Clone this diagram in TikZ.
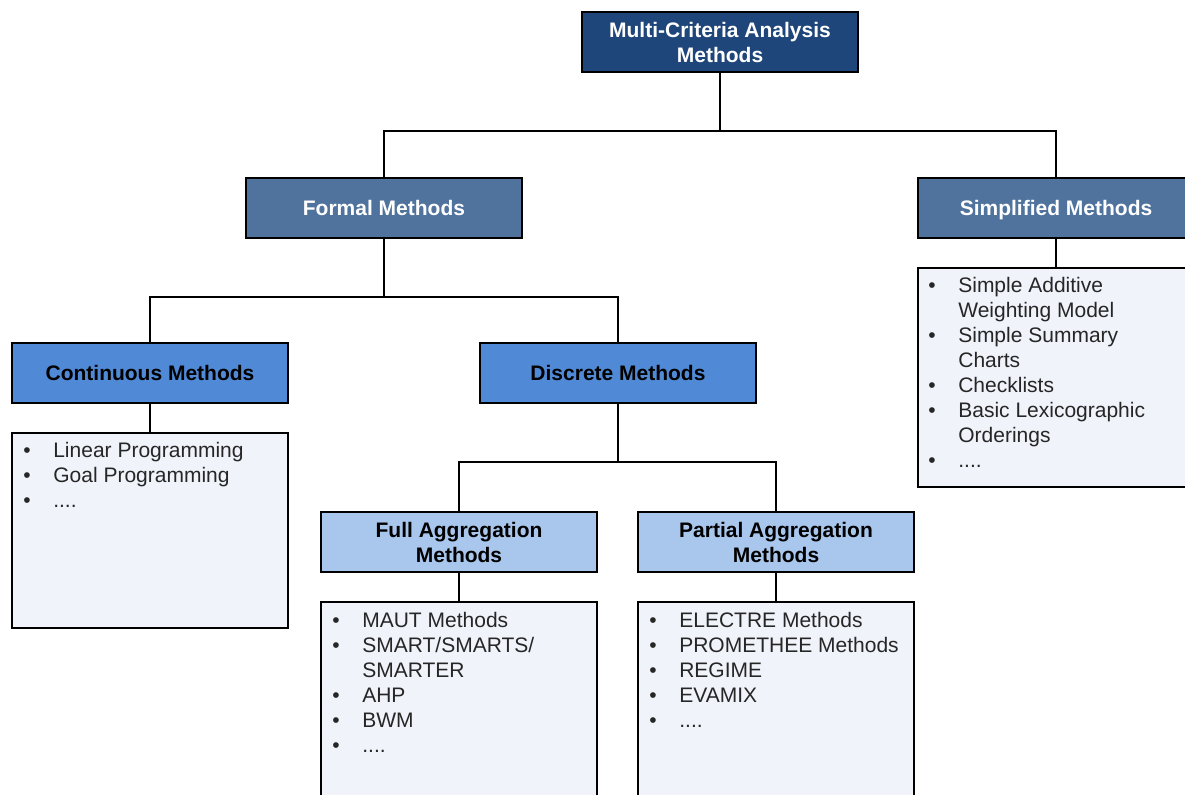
\documentclass[tikz,border=0pt]{standalone}
\usepackage{fontspec}
\setmainfont{Liberation Sans}
\definecolor{topblue}{RGB}{31,70,122}
\definecolor{midblue}{RGB}{80,115,158}
\definecolor{brightblue}{RGB}{80,137,213}
\definecolor{paleblue}{RGB}{169,198,236}
\definecolor{listfill}{RGB}{240,243,250}
\newcommand{\bul}[1]{\strut\makebox[18pt][l]{\textbullet}#1}
\newcommand{\cnt}[1]{\strut\hspace*{18pt}#1}
\begin{document}
\begin{tikzpicture}[x=0.6pt,y=-0.6pt,
  box/.style={draw=black,line width=1.2pt,minimum width=165.6pt,minimum height=36pt,inner sep=0pt,align=center,font=\fontsize{12.6}{15}\selectfont\bfseries},
  lvl1/.style={box,fill=topblue,text=white},
  lvl2/.style={box,fill=midblue,text=white},
  lvl3/.style={box,fill=brightblue,text=black},
  lvl4/.style={box,fill=paleblue,text=black},
  listbox/.style={draw=black,line width=1.2pt,fill=listfill,minimum width=165.6pt,inner sep=0pt,anchor=north},
  items/.style={anchor=north west,inner sep=0pt,align=left,text=black!85,font=\fontsize{12.6}{15}\selectfont},
  link/.style={line width=1.2pt}]
\useasboundingbox (0,0) rectangle (1185,794);
\clip (0,0) rectangle (1185,794);
\node[lvl1] (mca) at (720,42) {Multi-Criteria Analysis\\Methods};
\node[lvl2] (formal) at (384,207.5) {Formal Methods};
\node[lvl2,text depth=0pt] (simp) at (1056,207.5) {Simplified Methods};
\node[lvl3] (cont) at (150,372.5) {Continuous Methods};
\node[lvl3] (disc) at (618,372.5) {Discrete Methods};
\node[lvl4] (full) at (459,542) {Full Aggregation\\Methods};
\node[lvl4] (part) at (776,542) {Partial Aggregation\\Methods};
\node[listbox,minimum height=117pt] (contlist) at (150,432) {};
\node[listbox,minimum height=131.4pt] (simplist) at (1056,267) {};
\node[listbox,minimum height=131.4pt] (fulllist) at (459,601) {};
\node[listbox,minimum height=131.4pt] (partlist) at (776,601) {};
\node[items] (contitems) at (23,440) {\bul{Linear Programming}\\\bul{Goal Programming}\\\bul{....}};
\node[items] (simpitems) at (928,275) {\bul{Simple Additive}\\\cnt{Weighting Model}\\\bul{Simple Summary}\\\cnt{Charts}\\\bul{Checklists}\\\bul{Basic Lexicographic}\\\cnt{Orderings}\\\bul{....}};
\node[items] (fullitems) at (332,610) {\bul{MAUT Methods}\\\bul{SMART/SMARTS/}\\\cnt{SMARTER}\\\bul{AHP}\\\bul{BWM}\\\bul{....}};
\node[items] (partitems) at (649,610) {\bul{ELECTRE Methods}\\\bul{PROMETHEE Methods}\\\bul{REGIME}\\\bul{EVAMIX}\\\bul{....}};
\coordinate (j1) at (720,131);
\coordinate (j2) at (384,297);
\coordinate (j3) at (618,462);
\draw[link] (mca) -- (j1);
\draw[link] (formal) |- (j1) -| (simp);
\draw[link] (formal) -- (j2);
\draw[link] (cont) |- (j2) -| (disc);
\draw[link] (disc) -- (j3);
\draw[link] (full) |- (j3) -| (part);
\draw[link] (cont) -- (contlist);
\draw[link] (simp) -- (simplist);
\draw[link] (full) -- (fulllist);
\draw[link] (part) -- (partlist);
\end{tikzpicture}
\end{document}
